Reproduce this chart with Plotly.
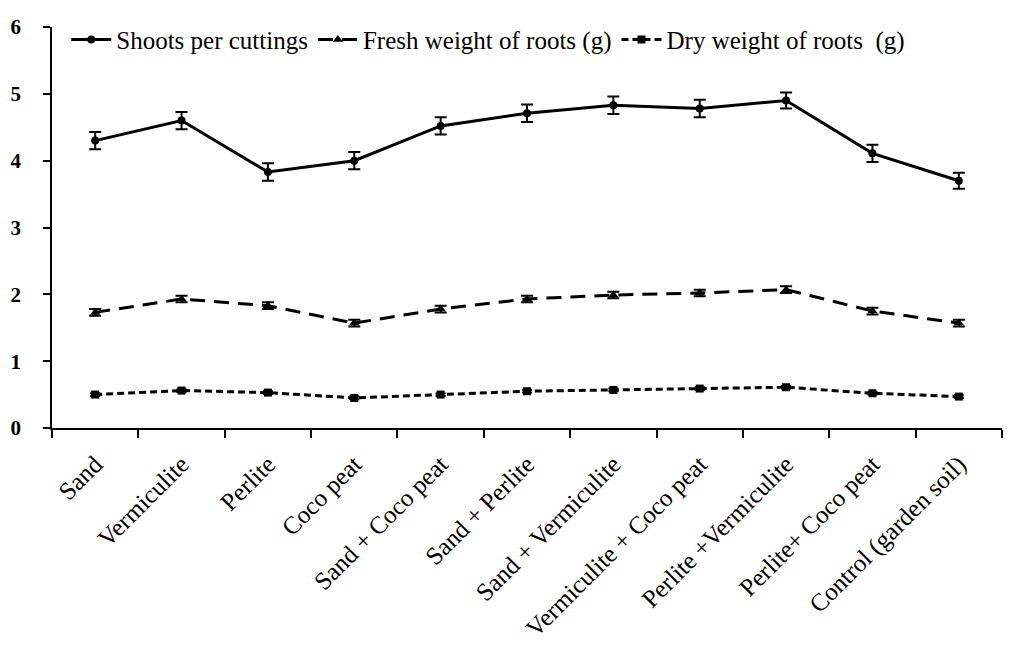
import plotly.graph_objects as go

categories = ["Sand", "Vermiculite", "Perlite", "Coco peat", "Sand + Coco peat",
              "Sand + Perlite", "Sand + Vermiculite", "Vermiculite + Coco peat",
              "Perlite +Vermiculite", "Perlite+ Coco peat", "Control (garden soil)"]

shoots = [4.30, 4.60, 3.83, 4.00, 4.52, 4.71, 4.83, 4.78, 4.90, 4.11, 3.70]
shoots_err = [0.13, 0.13, 0.13, 0.13, 0.13, 0.13, 0.13, 0.13, 0.12, 0.13, 0.12]

fresh = [1.73, 1.93, 1.83, 1.57, 1.78, 1.93, 1.99, 2.02, 2.07, 1.75, 1.57]
fresh_err = [0.05, 0.05, 0.05, 0.05, 0.05, 0.05, 0.05, 0.05, 0.05, 0.05, 0.05]

dry = [0.50, 0.56, 0.53, 0.45, 0.50, 0.55, 0.57, 0.59, 0.61, 0.52, 0.47]
dry_err = [0.02, 0.02, 0.02, 0.02, 0.02, 0.02, 0.02, 0.02, 0.02, 0.02, 0.02]

names = ["Shoots per cuttings", "Fresh weight of roots (g)", "Dry weight of roots  (g)"]

FONT = "Liberation Serif, Times New Roman, serif"

fig = go.Figure()

fig.add_trace(go.Scatter(
    x=categories, y=shoots, name=names[0], mode="lines+markers",
    line=dict(color="black", width=3, dash="solid"),
    marker=dict(symbol="circle", size=8, color="black"),
    error_y=dict(type="data", array=shoots_err, visible=True, color="black", thickness=2, width=6),
))
fig.add_trace(go.Scatter(
    x=categories, y=fresh, name=names[1], mode="lines+markers",
    line=dict(color="black", width=3, dash="15px,9px"),
    marker=dict(symbol="triangle-up", size=9, color="black"),
    error_y=dict(type="data", array=fresh_err, visible=True, color="black", thickness=2, width=6),
))
fig.add_trace(go.Scatter(
    x=categories, y=dry, name=names[2], mode="lines+markers",
    line=dict(color="black", width=3, dash="7px,4px"),
    marker=dict(symbol="square", size=8, color="black"),
    error_y=dict(type="data", array=dry_err, visible=True, color="black", thickness=2, width=5),
))

fig.update_layout(
    width=1016, height=641,
    margin=dict(l=44, r=22, t=19, b=221, autoexpand=False),
    paper_bgcolor="white", plot_bgcolor="white",
    font=dict(family=FONT, color="black"),
    showlegend=True,
    legend=dict(orientation="h", x=0.015, y=0.968, xanchor="left", yanchor="middle",
                font=dict(family=FONT, size=25, color="black"),
                bgcolor="rgba(0,0,0,0)", itemwidth=40, tracegroupgap=0),
    xaxis=dict(type="category", range=[-0.5, 10.5], showline=True, linecolor="black", linewidth=1.5,
               ticks="outside", tickson="boundaries", ticklen=8, tickcolor="black", tickwidth=1.5,
               tickangle=-45, tickfont=dict(family=FONT, size=25, color="black"),
               ticklabelstandoff=10, showgrid=False, zeroline=False, automargin=False),
    yaxis=dict(range=[0, 6], dtick=1, showline=True, linecolor="black", linewidth=1.5,
               ticks="outside", ticklen=7, tickcolor="black", tickwidth=1.5,
               tickfont=dict(family=FONT, size=21, color="black", weight="bold"),
               ticklabelstandoff=18, showgrid=False, zeroline=False, automargin=False),
    shapes=[dict(type="line", xref="paper", yref="y", x0=-0.01, x1=0, y0=0, y1=0,
                 line=dict(color="black", width=1.5))],
)

fig.write_html("out.html")
